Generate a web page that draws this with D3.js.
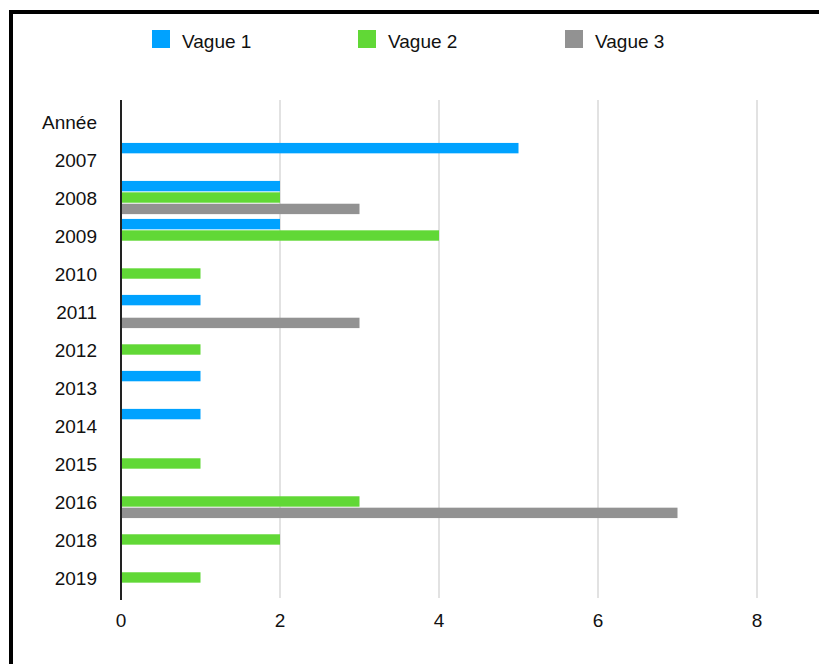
<!DOCTYPE html>
<meta charset="utf-8">
<style>
body { margin: 0; background: #fff; }
text { font-family: "Liberation Sans", Helvetica, Arial, sans-serif; fill: #111; }
.grid line { stroke: #d9d9d9; stroke-width: 1.5; }
</style>
<svg width="819" height="664"></svg>
<script src="https://d3js.org/d3.v7.min.js"></script>
<script>

var years = ["Année", "2007", "2008", "2009", "2010", "2011", "2012", "2013", "2014", "2015", "2016", "2018", "2019"];
var seriesNames = ["Vague 1", "Vague 2", "Vague 3"];
var vague1 = [0, 5, 2, 2, 0, 1, 0, 1, 1, 0, 0, 0, 0];
var vague2 = [0, 0, 2, 4, 1, 0, 1, 0, 0, 1, 3, 2, 1];
var vague3 = [0, 0, 3, 0, 0, 3, 0, 0, 0, 0, 7, 0, 0];
var xTicks = [0, 2, 4, 6, 8];
var colors = ["#00a2ff", "#61d836", "#929292"];

var svg = d3.select("svg");

// frame (only top and left edges are visible)
svg.append("path")
    .attr("d", "M11,680 V12 H830")
    .attr("fill", "none")
    .attr("stroke", "#000")
    .attr("stroke-width", 4);

var x = d3.scaleLinear().domain([0, 8]).range([121, 757]);
var y = d3.scaleBand().domain(years).range([100, 600])
    .paddingInner(0.1).paddingOuter(0.13);
var y1 = d3.scaleBand().domain(seriesNames).range([0, y.bandwidth()]);

var data = years.map(function(yr, i) {
  return { year: yr, values: [vague1[i], vague2[i], vague3[i]] };
});

// grid
svg.append("g").attr("class", "grid")
  .selectAll("line")
  .data(xTicks.slice(1))
  .enter().append("line")
    .attr("x1", function(d) { return x(d); })
    .attr("x2", function(d) { return x(d); })
    .attr("y1", 100)
    .attr("y2", 598);

// bars
var group = svg.append("g").selectAll("g")
  .data(data)
  .enter().append("g")
    .attr("transform", function(d) { return "translate(0," + y(d.year) + ")"; });

group.selectAll("rect")
  .data(function(d) { return d.values.map(function(v, j) { return { s: j, v: v }; }); })
  .enter().filter(function(d) { return d.v > 0; }).append("rect")
    .attr("x", x(0))
    .attr("y", function(d) { return y1(seriesNames[d.s]); })
    .attr("width", function(d) { return x(d.v) - x(0); })
    .attr("height", y1.bandwidth() - 1)
    .attr("fill", function(d) { return colors[d.s]; });

// y axis line
svg.append("line")
    .attr("x1", 121).attr("x2", 121)
    .attr("y1", 100).attr("y2", 600)
    .attr("stroke", "#222")
    .attr("stroke-width", 2);

// category labels
svg.append("g").selectAll("text")
  .data(years)
  .enter().append("text")
    .attr("x", 97)
    .attr("y", function(d) { return y(d) + y.bandwidth() / 2 + 7; })
    .attr("text-anchor", "end")
    .style("font-size", "19px")
    .text(function(d) { return d; });

// x tick labels
svg.append("g").selectAll("text")
  .data(xTicks)
  .enter().append("text")
    .attr("x", function(d) { return x(d); })
    .attr("y", 627)
    .attr("text-anchor", "middle")
    .style("font-size", "19px")
    .text(function(d) { return d; });

// legend
var legendX = [152, 358, 565];
var legend = svg.append("g").selectAll("g")
  .data(seriesNames)
  .enter().append("g")
    .attr("transform", function(d, i) { return "translate(" + legendX[i] + ",0)"; });

legend.append("rect")
    .attr("x", 0).attr("y", 30)
    .attr("width", 18).attr("height", 18)
    .attr("fill", function(d, i) { return colors[i]; });

legend.append("text")
    .attr("x", 30).attr("y", 48)
    .style("font-size", "19px")
    .text(function(d) { return d; });

</script>
